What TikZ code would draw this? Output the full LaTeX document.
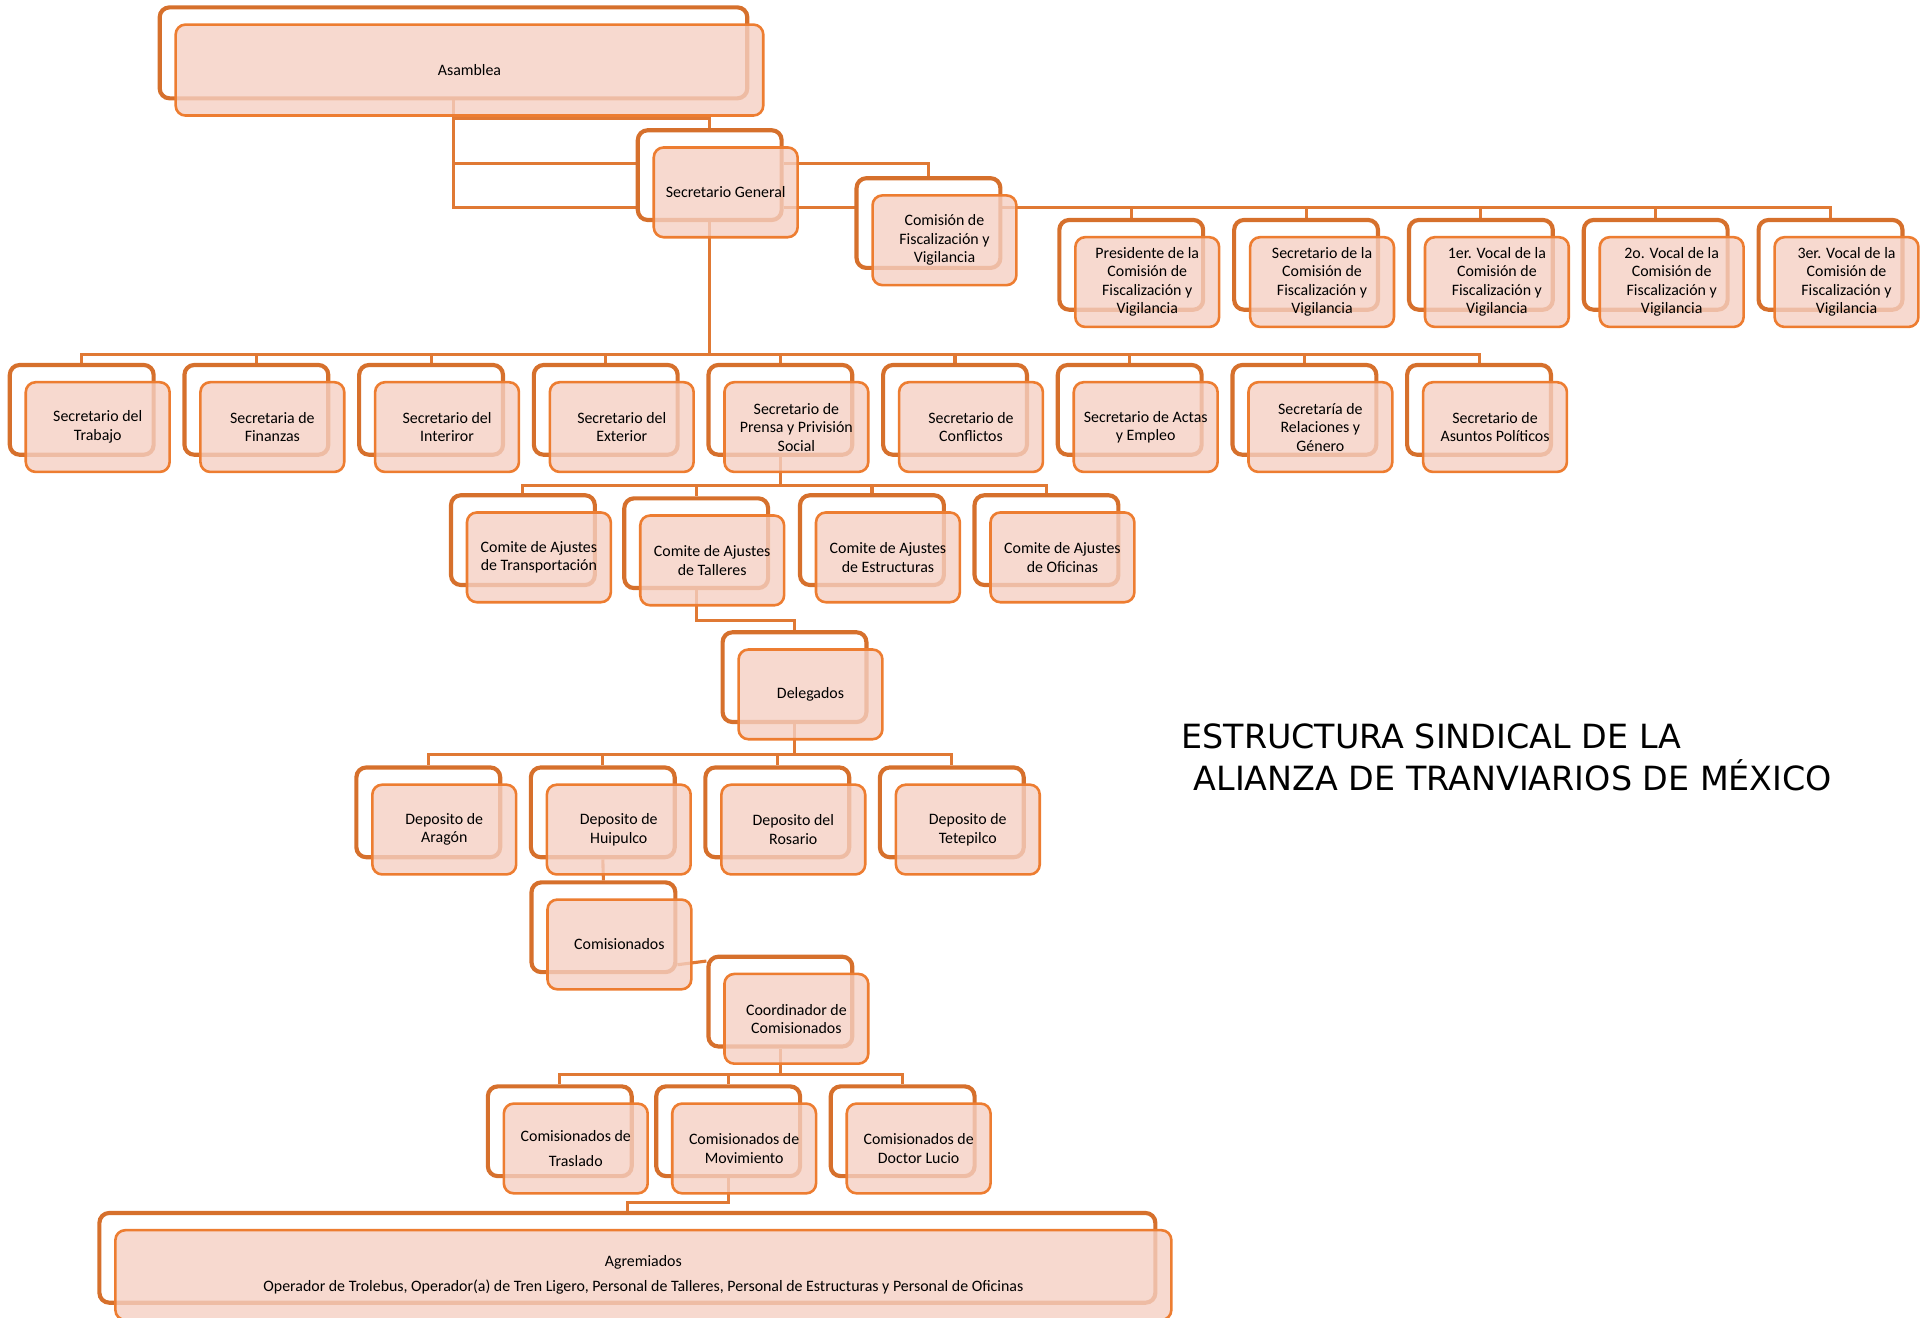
\documentclass[tikz,border=0pt]{standalone}
\usepackage{fontspec}
\setmainfont{Carlito}
\newfontfamily\titlefont{DejaVu Sans}
\usepackage{tikz}
\usetikzlibrary{positioning}
\usetikzlibrary{calc,backgrounds}
\definecolor{backorange}{RGB}{214,112,44}
\definecolor{frontorange}{RGB}{237,125,49}
\definecolor{lineorange}{RGB}{224,121,52}
\definecolor{cardpink}{RGB}{245,208,195}
\tikzset{back node/.style={draw=backorange,line width=2.4pt,fill=white,rounded corners=0.2cm,minimum width=2.925cm,minimum height=1.825cm,inner sep=0pt},
	front node/.style={draw=frontorange,line width=1.5pt,fill=cardpink,fill opacity=0.8,text opacity=1,rounded corners=0.2cm,minimum width=2.925cm,minimum height=1.825cm,inner sep=1pt,align=center,font=\fontsize{9.2}{10.7}\selectfont,xshift=0.325cm,yshift=-0.35cm},}

\begin{document}
\begin{tikzpicture}[x=0.025cm, y=-0.025cm, link/.style={draw=lineorange,line width=1.8pt}, title text/.style={anchor=base west,inner sep=0pt,font=\titlefont\fontsize{19.3}{22}\selectfont}]
	\useasboundingbox (0,0) rectangle (1568,1072);
	% direccion
	\node[back node, minimum width=11.95cm, minimum height=1.85cm] (asamb) at (369,43) {};
	\node[front node, minimum width=11.95cm, minimum height=1.85cm] (asam) at (asamb) {Asamblea};
	\node[back node] (sgb) at (577.5,142.5) {};
	\node[front node] (sg) at (sgb) {Secretario General};
	\node[back node] (cfvb) at (755.5,181.5) {};
	\node[front node] (cfv) at (cfvb) {Comisión de\\Fiscalización y\\Vigilancia};
	% comision de fiscalizacion
	\node[back node] (presb) at (920.5,215.5) {};
	\node[front node] (pres) at (presb) {Presidente de la\\Comisión de\\Fiscalización y\\Vigilancia};
	\node[back node] (seclb) at (1062.75,215.5) {};
	\node[front node] (secl) at (seclb) {Secretario de la\\Comisión de\\Fiscalización y\\Vigilancia};
	\node[back node] (vocab) at (1205,215.5) {};
	\node[front node] (voca) at (vocab) {1er. Vocal de la\\Comisión de\\Fiscalización y\\Vigilancia};
	\node[back node] (vocbb) at (1347.25,215.5) {};
	\node[front node] (vocb) at (vocbb) {2o. Vocal de la\\Comisión de\\Fiscalización y\\Vigilancia};
	\node[back node] (voccb) at (1489.5,215.5) {};
	\node[front node] (vocc) at (voccb) {3er. Vocal de la\\Comisión de\\Fiscalización y\\Vigilancia};
	% secretarias
	\node[back node] (trabb) at (66.5,333.5) {};
	\node[front node] (trab) at (trabb) {Secretario del\\Trabajo};
	\node[back node] (finb) at (208.6,333.5) {};
	\node[front node] (fin) at (finb) {Secretaria de\\Finanzas};
	\node[back node] (intb) at (350.75,333.5) {};
	\node[front node] (int) at (intb) {Secretario del\\Interiror};
	\node[back node] (extb) at (492.9,333.5) {};
	\node[front node] (ext) at (extb) {Secretario del\\Exterior};
	\node[back node] (prensab) at (635,333.5) {};
	\node[front node] (prensa) at (prensab) {Secretario de\\Prensa y Privisión\\Social};
	\node[back node] (confb) at (777.1,333.5) {};
	\node[front node] (conf) at (confb) {Secretario de\\Conflictos};
	\node[back node] (actasb) at (919.25,333.5) {};
	\node[front node] (actas) at (actasb) {Secretario de Actas\\y Empleo};
	\node[back node] (relb) at (1061.4,333.5) {};
	\node[front node] (rel) at (relb) {Secretaría de\\Relaciones y\\Género};
	\node[back node] (polb) at (1203.5,333.5) {};
	\node[front node] (pol) at (polb) {Secretario de\\Asuntos Políticos};
	% comites
	\node[back node] (transpb) at (425.5,439.5) {};
	\node[front node] (transp) at (transpb) {Comite de Ajustes\\de Transportación};
	\node[back node] (tallb) at (566.5,442) {};
	\node[front node] (tall) at (tallb) {Comite de Ajustes\\de Talleres};
	\node[back node] (estrb) at (709.5,439.5) {};
	\node[front node] (estr) at (estrb) {Comite de Ajustes\\de Estructuras};
	\node[back node] (ofib) at (851.5,439.5) {};
	\node[front node] (ofi) at (ofib) {Comite de Ajustes\\de Oficinas};
	\node[back node] (delb) at (646.5,551) {};
	\node[front node] (del) at (delb) {Delegados};
	% depositos
	\node[back node] (aragb) at (348.5,661) {};
	\node[front node] (arag) at (aragb) {Deposito de\\Aragón};
	\node[back node] (huipb) at (490.5,661) {};
	\node[front node] (huip) at (huipb) {Deposito de\\Huipulco};
	\node[back node] (rosb) at (632.5,661) {};
	\node[front node] (ros) at (rosb) {Deposito del\\Rosario};
	\node[back node] (tetb) at (774.5,661) {};
	\node[front node] (tet) at (tetb) {Deposito de\\Tetepilco};
	\node[back node] (comb) at (491,754.5) {};
	\node[front node] (com) at (comb) {Comisionados};
	\node[back node] (coordb) at (635,815) {};
	\node[front node] (coord) at (coordb) {Coordinador de\\Comisionados};
	% comisionados
	\node[back node] (trasb) at (455.5,920.5) {};
	\node[front node] (tras) at (trasb) {Comisionados de\\[0.125cm]Traslado};
	\node[back node] (movb) at (592.5,920.5) {};
	\node[front node] (mov) at (movb) {Comisionados de\\Movimiento};
	\node[back node] (lucb) at (734.5,920.5) {};
	\node[front node] (luc) at (lucb) {Comisionados de\\Doctor Lucio};
	\node[back node, minimum width=21.475cm] (agremb) at (510.5,1023.5) {};
	\node[front node, minimum width=21.475cm] (agrem) at (agremb) {Agremiados\\[0.125cm]Operador de Trolebus, Operador(a) de Tren Ligero, Personal de Talleres, Personal de Estructuras y Personal de Oficinas};
	% titulo
	\node[title text] (titleA) at (961,609) {ESTRUCTURA SINDICAL DE LA};
	\node[title text] (titleB) at (971,643) {ALIANZA DE TRANVIARIOS DE MÉXICO};

	\begin{scope}[on background layer]
		\draw[link] (asamb.south) -- ++(0,15) -| (sgb.north);
		\draw[link] (asamb.south) |- ($(sgb.west)+(0,-9.5)$);
		\draw[link] (asamb.south) |- ($(sgb.west)+(0,26.5)$);
		\draw[link] ($(sgb.east)+(0,-9.5)$) -| (cfvb.north);
		\coordinate (cbus) at ($(sgb.east)+(0,26.5)$);
		\draw[link] (cbus) -| (presb.north);
		\draw[link] (cbus) -| (seclb.north);
		\draw[link] (cbus) -| (vocab.north);
		\draw[link] (cbus) -| (vocbb.north);
		\draw[link] (cbus) -| (voccb.north);
		\coordinate (rbus) at ($(sgb.south)+(0,108)$);
		\draw[link] (sgb.south) -- (rbus);
		\draw[link] (rbus) -| (trabb.north);
		\draw[link] (rbus) -| (finb.north);
		\draw[link] (rbus) -| (intb.north);
		\draw[link] (rbus) -| (extb.north);
		\draw[link] (rbus) -| (prensab.north);
		\draw[link] (rbus) -| (confb.north);
		\draw[link] (rbus) -| (actasb.north);
		\draw[link] (rbus) -| (relb.north);
		\draw[link] (rbus) -| (polb.north);
		\coordinate (pbus) at ($(prensab.south)+(0,23)$);
		\draw[link] (prensab.south) -- (pbus);
		\draw[link] (pbus) -| (transpb.north);
		\draw[link] (pbus) -| (tallb.north);
		\draw[link] (pbus) -| (estrb.north);
		\draw[link] (pbus) -| (ofib.north);
		\draw[link] (tallb.south) -- ++(0,25) -| (delb.north);
		\coordinate (dbus) at ($(delb.south)+(0,25)$);
		\draw[link] (delb.south) -- (dbus);
		\draw[link] (dbus) -| (aragb.north);
		\draw[link] (dbus) -| (huipb.north);
		\draw[link] (dbus) -| (rosb.north);
		\draw[link] (dbus) -| (tetb.north);
		\draw[link] (huipb.south) -- (comb.north);
		\draw[link] ($(comb.east)+(0,30.5)$) -- ($(coordb.west)+(0,-33)$);
		\coordinate (kbus) at ($(coordb.south)+(0,21)$);
		\draw[link] (coordb.south) -- (kbus);
		\draw[link] (kbus) -| (trasb.north);
		\draw[link] (kbus) -| (movb.north);
		\draw[link] (kbus) -| (lucb.north);
		\draw[link] (movb.south) -- ++(0,20) -| (agremb.north);
	\end{scope}
\end{tikzpicture}
\end{document}
